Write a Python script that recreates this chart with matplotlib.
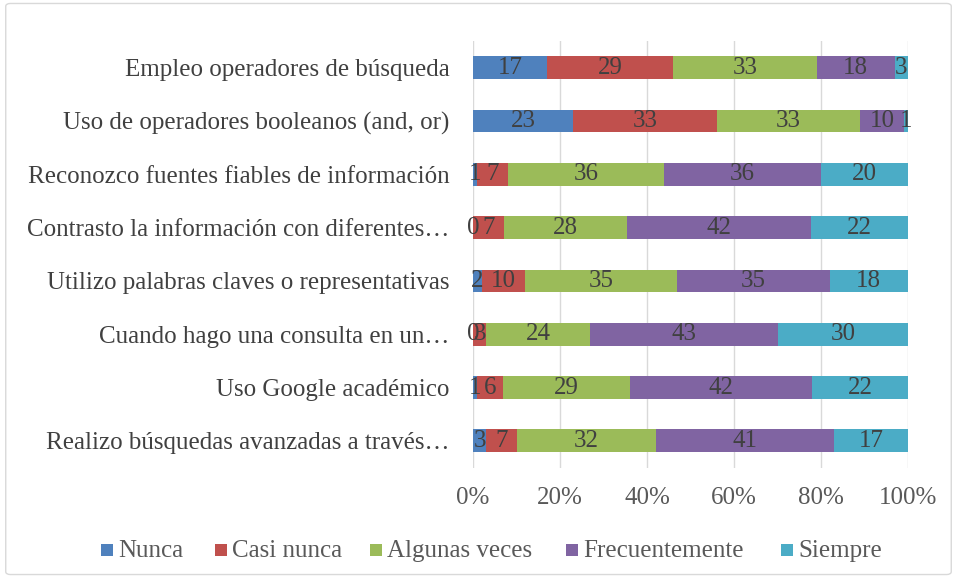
import numpy as np
import matplotlib as mpl

mpl.use('Agg')
import matplotlib.pyplot as plt
from matplotlib.patches import FancyBboxPatch, Rectangle

# data (top row first)
categories = [
    'Empleo operadores de búsqueda',
    'Uso de operadores booleanos (and, or)',
    'Reconozco fuentes fiables de información',
    'Contrasto la información con diferentes…',
    'Utilizo palabras claves o representativas',
    'Cuando hago una consulta en un…',
    'Uso Google académico',
    'Realizo búsquedas avanzadas a través…',
]
series = ['Nunca', 'Casi nunca', 'Algunas veces', 'Frecuentemente', 'Siempre']
nunca = [17, 23, 1, 0, 2, 0, 1, 3]
casi_nunca = [29, 33, 7, 7, 10, 3, 6, 7]
algunas = [33, 33, 36, 28, 35, 24, 29, 32]
frecuente = [18, 10, 36, 42, 35, 43, 42, 41]
siempre = [3, 1, 20, 22, 18, 30, 22, 17]
ticks = [0, 20, 40, 60, 80, 100]

colors = ['#4F81BD', '#C0504D', '#9BBB59', '#8064A2', '#4BACC6']

plt.rcParams['font.family'] = ['Liberation Serif', 'DejaVu Serif']

values = np.array([nunca, casi_nunca, algunas, frecuente, siempre], dtype=float)
totals = values.sum(axis=0)
shares = values / totals * 100

W, H = 957, 578
figure = plt.figure(figsize=(W / 100, H / 100), dpi=100)
ax = figure.add_axes([0.4943, 0.191, 0.4545, 0.738])

# light frame round the chart area
figure.patches.append(FancyBboxPatch((0.006, 0.006), 0.988, 0.988, boxstyle='round,pad=0,rounding_size=0.005',
                                     transform=figure.transFigure, facecolor='none',
                                     edgecolor='#D9D9D9', linewidth=1))

y = np.arange(len(categories))
left = np.zeros(len(categories))
for i, name in enumerate(series):
    ax.barh(y, shares[i], left=left, height=0.43, color=colors[i], label=name, zorder=3)
    for j in range(len(categories)):
        ax.text(left[j] + shares[i][j] / 2, y[j], '%d' % values[i][j], ha='center', va='center',
                fontsize=18, color='#404040', zorder=4)
    left += shares[i]

ax.set_ylim(len(categories) - 0.5, -0.5)
ax.set_xlim(0, 100)
ax.set_yticks(y)
ax.set_yticklabels(categories, fontsize=18, color='#404040')
ax.set_xticks(ticks)
ax.set_xticklabels(['%d%%' % t for t in ticks], fontsize=18, color='#595959')
ax.tick_params(axis='both', length=0)
ax.tick_params(axis='y', pad=17)
ax.tick_params(axis='x', pad=14)
ax.grid(True, axis='x', color='#D9D9D9', linewidth=1, zorder=0)
for spine in ax.spines.values():
    spine.set_visible(False)

# legend, drawn by hand so all labels share one baseline
legend_x = [101, 215, 370, 566, 781]
baseline = 1 - 557 / H
for name, color, x in zip(series, colors, legend_x):
    figure.patches.append(Rectangle((x / W, 1 - 556 / H), 12 / W, 12 / H, transform=figure.transFigure,
                                    facecolor=color, edgecolor='none'))
    figure.text((x + 17) / W, baseline, name, fontsize=18, color='#595959', va='baseline', ha='left')

figure.savefig('out.png', dpi=100)
plt.close(figure)
